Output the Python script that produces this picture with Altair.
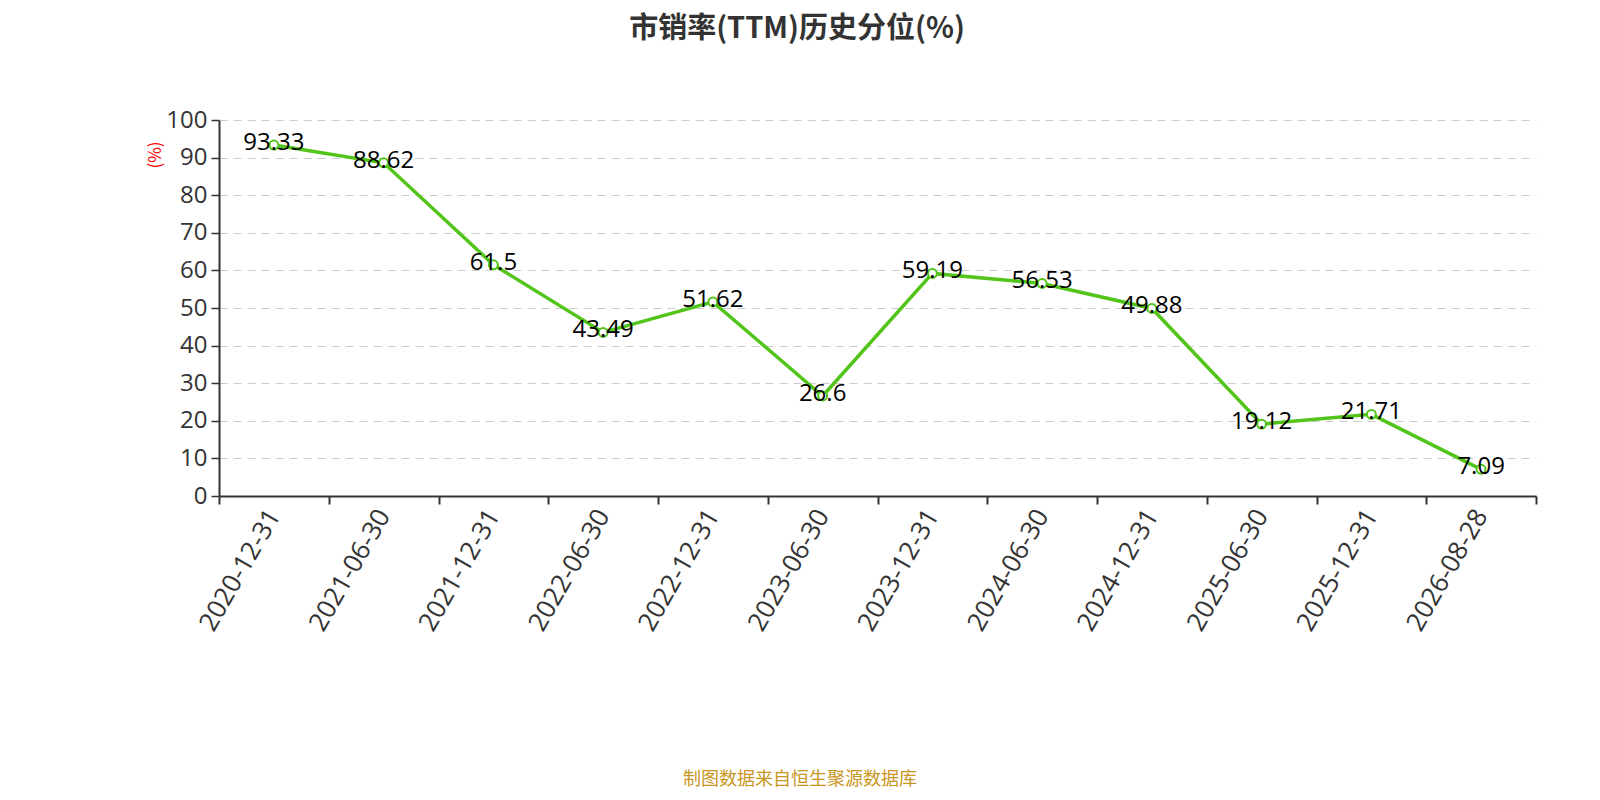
import altair as alt
import pandas as pd

dates = ["2020-12-31", "2021-06-30", "2021-12-31", "2022-06-30", "2022-12-31", "2023-06-30",
         "2023-12-31", "2024-06-30", "2024-12-31", "2025-06-30", "2025-12-31", "2026-08-28"]
values = [93.33, 88.62, 61.5, 43.49, 51.62, 26.6, 59.19, 56.53, 49.88, 19.12, 21.71, 7.09]
labels = ["93.33", "88.62", "61.5", "43.49", "51.62", "26.6", "59.19", "56.53", "49.88", "19.12", "21.71", "7.09"]
y_ticks = [0, 10, 20, 30, 40, 50, 60, 70, 80, 90, 100]

title_text = "市销率(TTM)历史分位(%)"
footer_text = "制图数据来自恒生聚源数据库"
yname_text = "(%)"

df = pd.DataFrame({"date": dates, "value": values, "label": labels})

CJK = "Noto Sans CJK SC"
NUM = "Open Sans"
GREEN = "#52c41a"

x_enc = alt.X("date:N", sort=dates, title=None,
              scale=alt.Scale(type="band", paddingInner=0, paddingOuter=0),
              axis=alt.Axis(labelAngle=-60, labelFontSize=26, labelColor="#333333",
                            labelFont=NUM, tickBand="extent", tickSize=8,
                            tickColor="#333333", domainColor="#333333", domainWidth=2,
                            tickWidth=2, labelPadding=7, grid=False))
y_enc = alt.Y("value:Q", title=None,
              scale=alt.Scale(domain=[0, 100], nice=False, zero=True),
              axis=alt.Axis(values=y_ticks, labelFontSize=24, labelColor="#333333",
                            labelFont=NUM, tickSize=8, tickColor="#333333",
                            domainColor="#333333", domainWidth=2, tickWidth=1.5,
                            labelPadding=4, grid=True, gridColor="#cccccc",
                            gridDash=[8, 6], gridWidth=1.2))

base = alt.Chart(df)

line = base.mark_line(color=GREEN, strokeWidth=3.5).encode(x=x_enc, y=y_enc)
points = base.mark_point(shape="circle", filled=True, fill="white", stroke=GREEN,
                         strokeWidth=2, size=80, opacity=1).encode(x=x_enc, y=y_enc)
text = base.mark_text(fontSize=24, font=NUM, color="#000000", dy=-2,
                      baseline="middle", align="center").encode(x=x_enc, y=y_enc, text="label:N")

title = alt.Chart(pd.DataFrame({"t": [title_text]})).mark_text(
    fontSize=29, fontWeight="bold", font=CJK, color="#333333", align="center", baseline="middle"
).encode(x=alt.value(578), y=alt.value(-91), text="t:N")

footer = alt.Chart(pd.DataFrame({"t": [footer_text]})).mark_text(
    fontSize=18, font=CJK, color="#c8961e", align="center", baseline="middle"
).encode(x=alt.value(581), y=alt.value(660), text="t:N")

yname = alt.Chart(pd.DataFrame({"t": [yname_text]})).mark_text(
    fontSize=17, font=CJK, color="#ff0000", align="center", baseline="middle", angle=270
).encode(x=alt.value(-63), y=alt.value(35), text="t:N")

chart = alt.layer(line, points, text, title, footer, yname).properties(
    width=1317, height=376,
    autosize=alt.AutoSizeParams(type="none"),
    padding={"left": 211, "top": 112, "right": 50, "bottom": 296},
).configure_view(stroke=None)

chart.save("out.html", embed_options={"renderer": "svg", "actions": False})
